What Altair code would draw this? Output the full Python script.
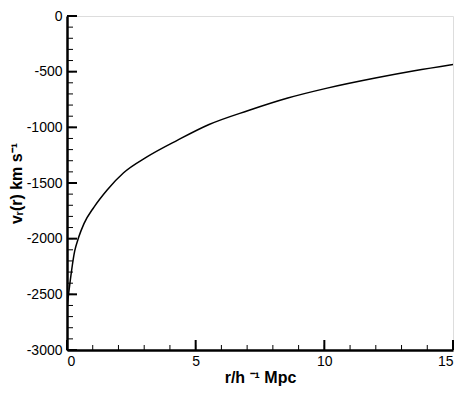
import altair as alt
import pandas as pd

r_vals = [0.0, 0.3, 0.45, 0.66, 1.05, 1.56, 2.2, 3.09, 4.3, 5.52, 7.05, 8.58, 10.11, 12.03, 13.5, 15.0]
v_vals = [-2620, -2110, -1990, -1865, -1716, -1562, -1408, -1268, -1115, -975, -849, -737, -648, -555, -492, -435]

y_minor = list(range(-3000, 1, 100))
y_major = list(range(-3000, 1, 500))
x_minor = list(range(0, 16, 1))
x_major = [0, 5, 10, 15]

W, H = 386, 334
FONT = "Liberation Sans"

xs = alt.Scale(domain=[0, 15], nice=False, zero=False)
ys = alt.Scale(domain=[-3000, 0], nice=False, zero=False)

line_df = pd.DataFrame({"r": r_vals, "v": v_vals})

line = alt.Chart(line_df).mark_line(color="black", strokeWidth=1.5, clip=True, interpolate="monotone").encode(
    x=alt.X("r:Q", scale=xs, axis=alt.Axis(
        title="r/h ⁻¹ Mpc", values=x_major, ticks=False, grid=False,
        labelExpr="datum.value + ''",
        labelPadding=4, labelFontSize=14, labelFont=FONT, labelColor="black",
        titleFont=FONT, titleFontSize=16, titleFontWeight="bold", titleColor="black",
        titlePadding=1, domainColor="black", domainWidth=2.5)),
    y=alt.Y("v:Q", scale=ys, axis=alt.Axis(
        title="vᵣ(r) km s⁻¹", values=y_major, ticks=False, grid=False,
        labelExpr="datum.value + ''",
        labelPadding=5, labelFontSize=14, labelFont=FONT, labelColor="black",
        titleFont=FONT, titleFontSize=16, titleFontWeight="bold", titleColor="black",
        titlePadding=2, domainColor="black", domainWidth=2.5)),
)

ymin_df = pd.DataFrame({"v": y_minor})
ymaj_df = pd.DataFrame({"v": y_major})
xmin_df = pd.DataFrame({"r": x_minor})
xmaj_df = pd.DataFrame({"r": x_major})

ytick_minor = alt.Chart(ymin_df).mark_rule(color="black", strokeWidth=1).encode(
    y=alt.Y("v:Q", scale=ys), x=alt.value(0), x2=alt.value(6))
ytick_major = alt.Chart(ymaj_df).mark_rule(color="black", strokeWidth=2).encode(
    y=alt.Y("v:Q", scale=ys), x=alt.value(0), x2=alt.value(10))
xtick_minor = alt.Chart(xmin_df).mark_rule(color="black", strokeWidth=1).encode(
    x=alt.X("r:Q", scale=xs), y=alt.value(H), y2=alt.value(H - 5))
xtick_major = alt.Chart(xmaj_df).mark_rule(color="black", strokeWidth=2).encode(
    x=alt.X("r:Q", scale=xs), y=alt.value(H), y2=alt.value(H - 10))

chart = alt.layer(line, ytick_minor, ytick_major, xtick_minor, xtick_major).properties(
    width=W, height=H,
    autosize=alt.AutoSizeParams(type="none"),
    padding={"left": 59, "top": 8, "right": 8, "bottom": 37},
).configure_view(stroke="black", strokeWidth=2.5).configure(background="white")

chart.save("out.html", embed_options={"renderer": "svg", "actions": False})
